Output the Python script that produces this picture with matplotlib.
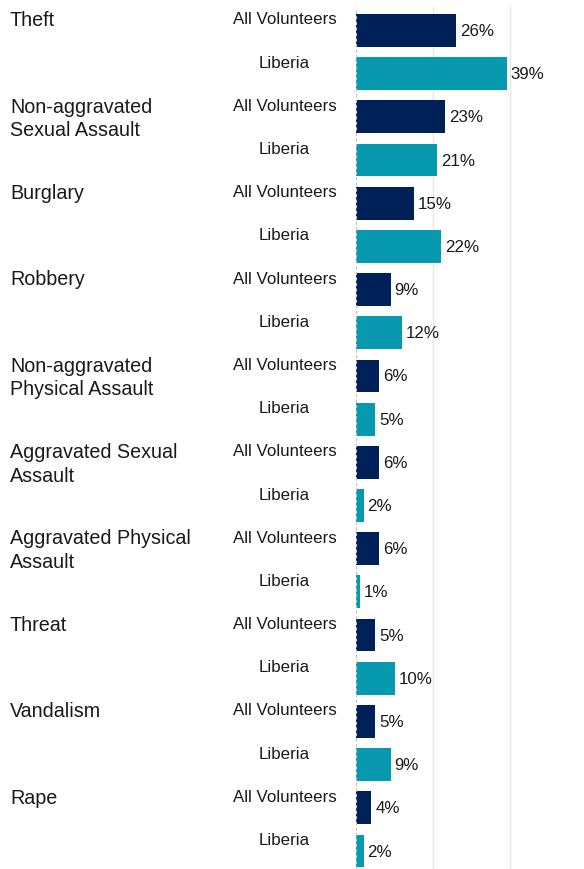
import matplotlib.pyplot as plt
import matplotlib.transforms as mtransforms
import numpy as np

plt.rcParams['font.family'] = ['Liberation Sans', 'DejaVu Sans']

# 数据
categories = ['Theft', 'Non-aggravated\nSexual Assault', 'Burglary', 'Robbery',
              'Non-aggravated\nPhysical Assault', 'Aggravated Sexual\nAssault',
              'Aggravated Physical\nAssault', 'Threat', 'Vandalism', 'Rape']
groups = ['All Volunteers', 'Liberia']
all_vol = [26, 23, 15, 9, 6, 6, 6, 5, 5, 4]
liberia = [39, 21, 22, 12, 5, 2, 1, 10, 9, 2]

navy = '#002157'
teal = '#079aae'

W, H = 584, 869
fig = plt.figure(figsize=(W / 100, H / 100), dpi=100)
ax = fig.add_axes([356 / W, 0, 1 - 356 / W, (H - 7) / H])

pitch = 43.2
n_rows = len(categories) * 2
ax.set_ylim(n_rows - 1 + (H - 851) / pitch, -(30.5 - 7) / pitch)
ax.set_xlim(0, (W - 356) / 3.86)

rows_a = np.arange(len(categories)) * 2
rows_b = rows_a + 1
ax.barh(rows_a, all_vol, height=0.76, color=navy, zorder=2)
ax.barh(rows_b, liberia, height=0.76, color=teal, zorder=2)

# 网格线
for gx in [20, 40]:
    ax.axvline(gx, color='#e8e8e8', lw=1, zorder=0)
ax.axvline(0, color='#c0c0c0', lw=0.8, ls=(0, (3, 2)), zorder=3)

# 数值标签
for rows, vals in [(rows_a, all_vol), (rows_b, liberia)]:
    for r, v in zip(rows, vals):
        ax.text(v + 1.0, r + 5.5 / pitch, f'{v}%', va='baseline', ha='left',
                fontsize=12.2, color='#1a1a1a')

trans = mtransforms.blended_transform_factory(fig.transFigure, ax.transData)
for i, cat in enumerate(categories):
    # 每行单独画，基线对齐
    for k, line in enumerate(cat.split('\n')):
        ax.text(10 / W, rows_a[i] + (-4.3 + 23.5 * k) / pitch, line, transform=trans,
                ha='left', va='baseline', fontsize=14.2, color='#1a1a1a', clip_on=False)
    for r, g in zip([rows_a[i], rows_b[i]], groups):
        ax.text(284.5 / W, r - 6 / pitch, g, transform=trans, ha='center',
                va='baseline', fontsize=12.2, color='#1a1a1a', clip_on=False)

ax.axis('off')
fig.savefig('out.png', dpi=100)
